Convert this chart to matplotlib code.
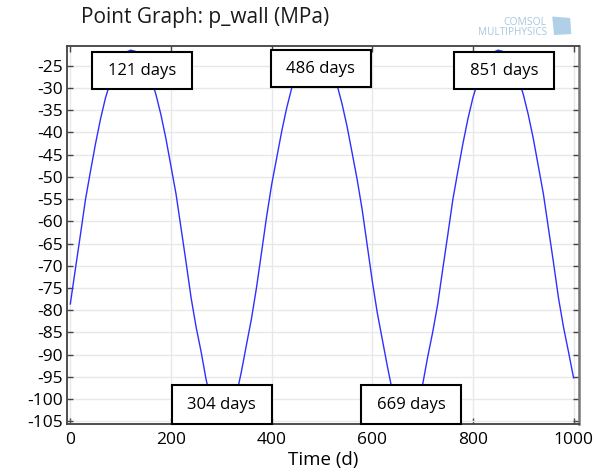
import numpy as np
import matplotlib
matplotlib.use("Agg")
import matplotlib.pyplot as plt
from matplotlib.patches import Rectangle, Polygon

plt.rcParams['font.family'] = ['Open Sans', 'DejaVu Sans']

# p_wall read every 10 days
time_d = np.arange(0, 1001, 10)
p_wall = [
    -78.6, -70.8, -63.1, -55.2, -48.8, -42.6, -37.0, -32.2, -28.5, -25.5,
    -23.3, -22.0, -21.5, -21.8, -22.9, -25.0, -27.9, -31.4, -36.0, -41.4,
    -47.6, -53.8, -61.5, -69.2, -77.2, -83.8, -89.4, -95.7, -100.4, -103.3,
    -104.6, -104.4, -102.6, -99.1, -93.8, -87.8, -81.9, -74.9, -67.0, -59.0,
    -51.8, -45.8, -39.8, -34.5, -30.0, -26.9, -24.2, -22.5, -21.6, -21.6,
    -22.3, -23.8, -26.3, -29.3, -33.6, -38.7, -44.6, -50.6, -57.4, -65.4,
    -73.4, -80.6, -86.6, -92.6, -98.2, -102.0, -104.1, -104.7, -103.7, -101.0,
    -96.8, -90.6, -85.0, -78.7, -70.8, -63.1, -55.2, -48.8, -42.6, -37.0,
    -32.2, -28.5, -25.5, -23.3, -22.0, -21.5, -21.8, -22.9, -25.0, -27.9,
    -31.4, -36.0, -41.4, -47.6, -53.8, -61.5, -69.2, -77.2, -83.8, -89.4,
    -95.2,
]

# days of the extrema annotated on the plot
peak_days = [121, 486, 851]
trough_days = [304, 669]

x_ticks = [0, 200, 400, 600, 800, 1000]
y_ticks = list(range(-105, -24, 5))

fig = plt.figure(figsize=(5.97, 4.73), dpi=100)
ax = fig.add_axes([0.1117, 0.1036, 0.8583, 0.7991])

ax.plot(time_d, p_wall, color='#2f2fff', lw=1.0, zorder=3)

ax.set_xlim(-7.2, 1011)
ax.set_ylim(-105.6, -20.57)
ax.set_xticks(x_ticks)
ax.set_xticklabels(['0', '200', '400', '600', '800', '1000'])
ax.set_yticks(y_ticks)
ax.set_yticklabels([str(v) for v in y_ticks])
ax.grid(True, color='#e8e8e8', lw=1.0, zorder=0)
ax.tick_params(direction='in', length=4, width=1, color='#444444',
               top=True, right=True, labelsize=12.5, pad=3)
ax.tick_params(axis='x', pad=6)
for side, sp in ax.spines.items():
    sp.set_color('#404040')
    sp.set_linewidth(1.3)
ax.spines['right'].set_color('#777777')
ax.spines['right'].set_linewidth(1.8)

ax.set_xlabel('Time (d)', fontsize=13.5, labelpad=2)
fig.text(0.136, 0.952, 'Point Graph: p_wall (MPa)', fontsize=15,
         ha='left', va='baseline', color='#1a1a1a')

# label boxes: left edge (days) and vertical span
box_w = 198
peak_left = [43, 399, 763]
trough_left = [202, 578]
for day, left in zip(peak_days, peak_left):
    top = -21.5 if day == 486 else -21.9
    ax.add_patch(Rectangle((left, top - 8.35), box_w, 8.35, facecolor='white',
                           edgecolor='black', lw=1.5, zorder=5))
    ax.text(left + box_w / 2, top - 4.2, f'{day} days', ha='center',
            va='center', fontsize=12, zorder=6)
for day, left in zip(trough_days, trough_left):
    ax.add_patch(Rectangle((left, -105.6), box_w, 8.8, facecolor='white',
                           edgecolor='black', lw=1.5, zorder=5, clip_on=False))
    ax.text(left + box_w / 2, -101.3, f'{day} days', ha='center',
            va='center', fontsize=12, zorder=6)

# software logo in the corner
fig.text(0.915, 0.953, 'COMSOL', fontsize=7.5, color='#a8c8de',
         ha='right', va='center')
fig.text(0.917, 0.932, 'MULTIPHYSICS', fontsize=7.2, color='#a8c8de',
         ha='right', va='center')
fig.add_artist(Polygon([[0.925, 0.965], [0.955, 0.962], [0.957, 0.928],
                        [0.928, 0.926]], closed=True,
                       transform=fig.transFigure, facecolor='#9cc5e2',
                       edgecolor='none', alpha=0.8))

fig.savefig('out.png', dpi=100)
